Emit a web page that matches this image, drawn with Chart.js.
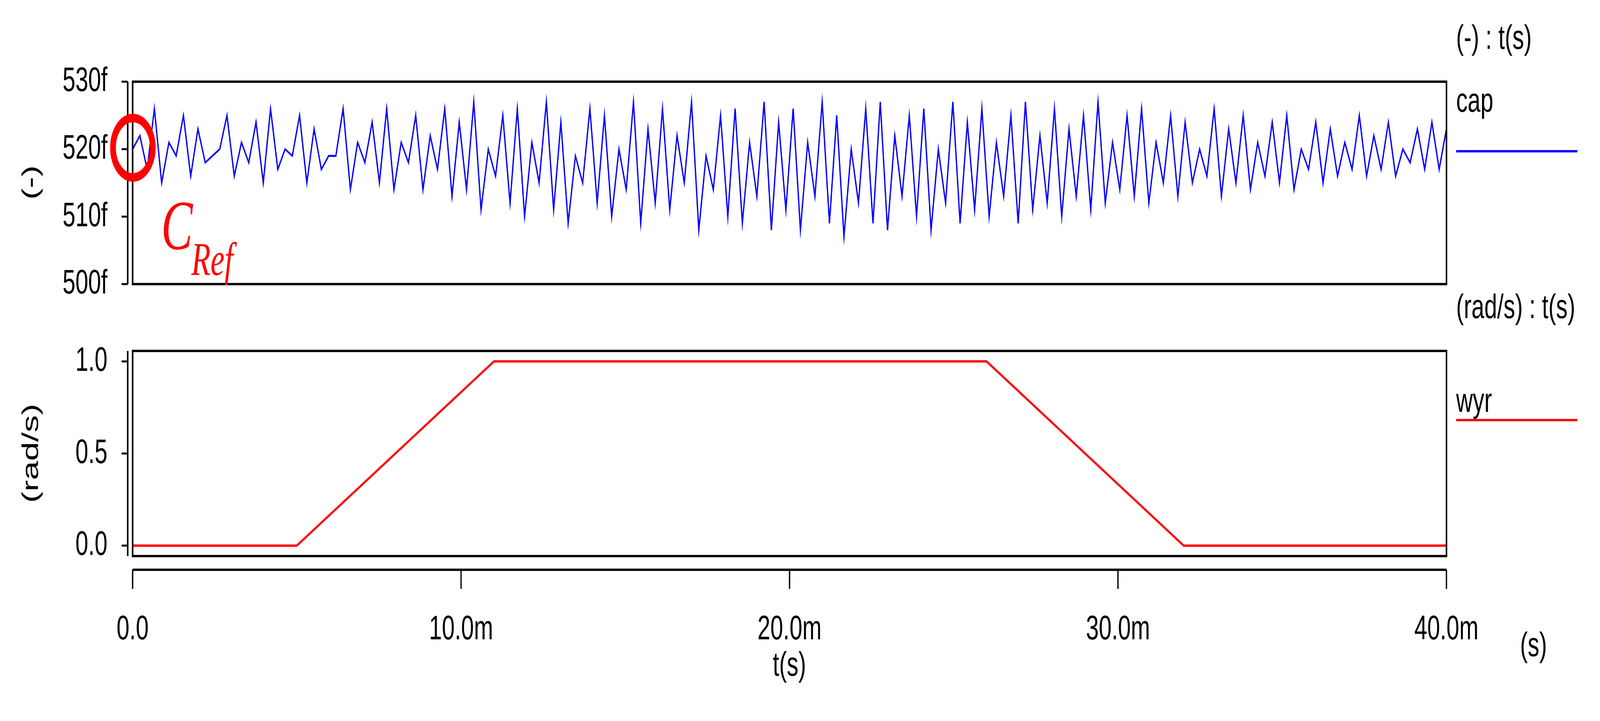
<!DOCTYPE html>
<html><head><meta charset="utf-8">
<script src="https://cdn.jsdelivr.net/npm/chart.js"></script>
<style>html,body{margin:0;padding:0;background:#fff;overflow:hidden;width:100%;height:100%}
canvas{position:absolute;left:0;top:0}</style></head>
<body>
<canvas id="c1" width="6105" height="1845" style="width:100vw;height:100vh"></canvas>
<canvas id="c2" width="6105" height="1845" style="width:100vw;height:100vh"></canvas>
<script>
// time axis (ms)
const xTicks = [0, 10, 20, 30, 40];
const capTicks = [500, 510, 520, 530];
const wyrTicks = [0, 0.5, 1.0];
// cap: alternating peak / trough values (fF), evenly spaced over 0..40 ms
const capPeaks = [522,526,521,525,523,519,525,521,524,526,520,525,523,519,526,521,524,526,521,525,522,526,
  524,527,520,525,526,521,527,524,519,526,525,520,527,523,526,522,527,519,525,526,521,527,524,
  526,521,527,525,520,526,527,522,525,526,520,527,524,526,521,525,527,522,526,523,525,527,521,
  525,526,521,525,524,520,526,523,525,521,524,525,520,524,523,521,525,522,524,520,523,524];
const capTroughs = [517,515,519,516,518,520,516,518,515,517,519,515,517,519,514,518,515,514,518,514,517,513,
  514,511,516,512,510,515,511,509,515,512,510,514,509,512,511,515,508,514,510,509,513,508,511,
  508,513,509,507,512,509,508,513,510,508,512,509,511,510,513,509,511,512,510,513,511,512,514,
  513,512,515,513,515,516,513,515,514,516,515,514,517,515,516,517,516,517,516,518,517,517];
const wyrT = [0, 5, 11, 26, 32, 40];
const wyrV = [0, 0, 1, 1, 0, 0];

const capVals = [520];
for (let i = 0; i < capPeaks.length; i++) { capVals.push(capPeaks[i]); capVals.push(capTroughs[i]); }
capVals.push(523);
const capData = capVals.map((v, i) => ({x: i * 40 / (capVals.length - 1), y: v}));
const wyrData = wyrT.map((t, i) => ({x: t, y: wyrV[i]}));

const FF = 'Liberation Sans, Arial, sans-serif';
const FONT = {family: FF, size: 88};
const L = 506, R = 5519;

function deco(extra) {
  return {
    id: 'deco',
    afterDraw(chart) {
      const ctx = chart.ctx, a = chart.chartArea, y = chart.scales.y;
      ctx.save();
      ctx.strokeStyle = '#000'; ctx.lineWidth = 6;
      ctx.strokeRect(a.left, a.top, a.right - a.left, a.bottom - a.top);
      ctx.beginPath(); ctx.moveTo(487, a.top); ctx.lineTo(487, a.bottom); ctx.stroke();
      ctx.lineWidth = 5;
      y.ticks.forEach(t => { const p = y.getPixelForValue(t.value);
        ctx.beginPath(); ctx.moveTo(464, p); ctx.lineTo(487, p); ctx.stroke(); });
      extra && extra(chart, ctx);
      ctx.restore();
    }
  };
}
function text(ctx, s, x, y, align, font, color, rot) {
  ctx.save(); ctx.fillStyle = color || '#000';
  ctx.font = font || ('88px ' + FF);
  ctx.textAlign = align || 'left'; ctx.textBaseline = 'middle';
  ctx.translate(x, y); if (rot) ctx.rotate(rot);
  ctx.fillText(s, 0, 0); ctx.restore();
}

new Chart(document.getElementById('c1'), {
  type: 'line',
  data: {datasets: [{data: capData, borderColor: '#0000ff', borderWidth: 5, pointRadius: 0, tension: 0}]},
  options: {
    responsive: false, animation: false, events: [], devicePixelRatio: 1,
    layout: {padding: {left: 0, right: 6105 - R, top: 209, bottom: 1845 - 727}},
    plugins: {legend: {display: false}, tooltip: {enabled: false}},
    scales: {
      x: {type: 'linear', min: 0, max: 40, display: false},
      y: {min: 500, max: 530, afterFit(s) { s.width = L; },
        afterBuildTicks(s) { s.ticks = capTicks.map(v => ({value: v})); },
        grid: {display: false}, border: {display: false},
        ticks: {font: FONT, color: '#000', padding: 88, callback: v => v + 'f'}}
    }
  },
  plugins: [deco((chart, ctx) => {
    text(ctx, '(-)', 121, 467, 'center', null, '#000', -Math.PI / 2);
    text(ctx, '(-) : t(s)', 5556, 101);
    text(ctx, 'cap', 5556, 262);
    ctx.strokeStyle = '#0000ff'; ctx.lineWidth = 6;
    ctx.beginPath(); ctx.moveTo(5556, 387); ctx.lineTo(6019, 387); ctx.stroke();
    text(ctx, '(rad/s) : t(s)', 5556, 790);
    ctx.strokeStyle = '#ff0000'; ctx.lineWidth = 22;
    ctx.beginPath(); ctx.arc(507, 378, 76, 0, Math.PI * 2); ctx.stroke();
    text(ctx, 'C', 615, 590, 'left', 'italic 180px Liberation Serif, serif', '#ff0000');
    text(ctx, 'Ref', 730, 672, 'left', 'italic 120px Liberation Serif, serif', '#ff0000');
  })]
});

new Chart(document.getElementById('c2'), {
  type: 'line',
  data: {datasets: [{data: wyrData, borderColor: '#ff0000', borderWidth: 6, pointRadius: 0, tension: 0}]},
  options: {
    responsive: false, animation: false, events: [], devicePixelRatio: 1,
    layout: {padding: {left: 0, right: 6105 - R, top: 898, bottom: 0}},
    plugins: {legend: {display: false}, tooltip: {enabled: false}},
    scales: {
      x: {type: 'linear', min: 0, max: 40, afterFit(s) { s.height = 1845 - 1423; },
        afterBuildTicks(s) { s.ticks = xTicks.map(v => ({value: v})); },
        grid: {display: false}, border: {display: false},
        ticks: {font: FONT, color: '#000', padding: 128, maxRotation: 0,
          callback: v => v === 0 ? '0.0' : v.toFixed(1) + 'm'}},
      y: {min: -0.057, max: 1.057, afterFit(s) { s.width = L; },
        afterBuildTicks(s) { s.ticks = wyrTicks.map(v => ({value: v})); },
        grid: {display: false}, border: {display: false},
        ticks: {font: FONT, color: '#000', padding: 88, callback: v => v.toFixed(1)}}
    }
  },
  plugins: [deco((chart, ctx) => {
    const x = chart.scales.x;
    ctx.strokeStyle = '#000'; ctx.lineWidth = 6;
    ctx.beginPath(); ctx.moveTo(L, 1458); ctx.lineTo(R, 1458); ctx.stroke();
    ctx.lineWidth = 5;
    x.ticks.forEach(t => { const p = x.getPixelForValue(t.value);
      ctx.beginPath(); ctx.moveTo(p, 1458); ctx.lineTo(p, 1507); ctx.stroke(); });
    text(ctx, '(rad/s)', 121, 1160, 'center', null, '#000', -Math.PI / 2);
    text(ctx, 'wyr', 5556, 1030);
    ctx.strokeStyle = '#ff0000'; ctx.lineWidth = 6;
    ctx.beginPath(); ctx.moveTo(5556, 1075); ctx.lineTo(6019, 1075); ctx.stroke();
    text(ctx, '(s)', 5800, 1655);
    text(ctx, 't(s)', 3012, 1705, 'center');
  })]
});
</script>
</body></html>
